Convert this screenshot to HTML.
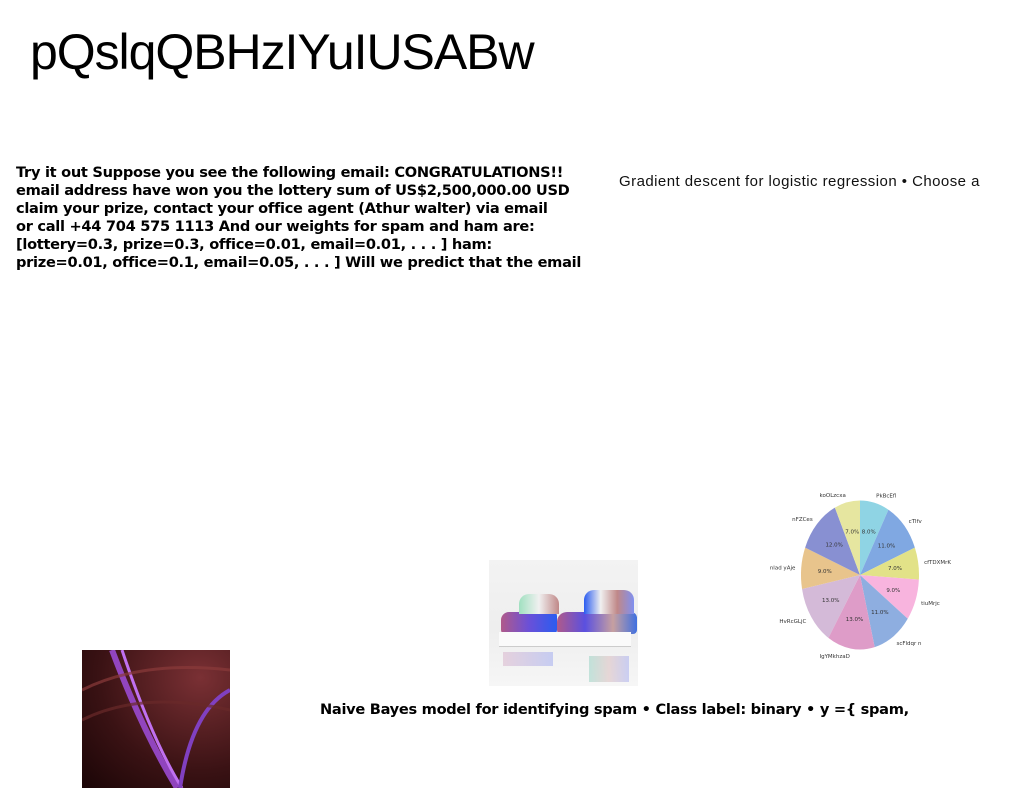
<!DOCTYPE html>
<html><head><meta charset="utf-8">
<style>
body{margin:0;width:1024px;height:788px;background:#fff;position:relative;overflow:hidden;font-family:"Liberation Sans",sans-serif}
.abs{position:absolute}
#title{left:30px;top:22px;font-size:50px;color:#000;letter-spacing:-1.05px;line-height:60px}
#para{left:16px;top:164px;font-size:14.6px;font-weight:bold;line-height:18px;color:#000;white-space:nowrap;font-family:"DejaVu Sans","Liberation Sans",sans-serif;letter-spacing:-0.3px}
#right{left:619px;top:173px;font-size:15px;color:#111;white-space:nowrap;letter-spacing:0.45px}
#bottom{left:320px;top:701px;font-size:14.6px;font-weight:bold;white-space:nowrap;font-family:"DejaVu Sans","Liberation Sans",sans-serif;letter-spacing:-0.3px}
</style></head><body>
<div id="title" class="abs">pQslqQBHzIYuIUSABw</div>
<div id="para" class="abs">Try it out Suppose you see the following email: CONGRATULATIONS!!<br>email address have won you the lottery sum of US$2,500,000.00 USD<br>claim your prize, contact your office agent (Athur walter) via email<br>or call +44 704 575 1113 And our weights for spam and ham are:<br>[lottery=0.3, prize=0.3, office=0.01, email=0.01, . . . ] ham:<br>prize=0.01, office=0.1, email=0.05, . . . ] Will we predict that the email</div>
<div id="right" class="abs">Gradient descent for logistic regression • Choose a</div>
<div id="bottom" class="abs">Naive Bayes model for identifying spam • Class label: binary • y ={ spam,</div>

<div class="abs" style="left:489px;top:560px;width:149px;height:126px;background:linear-gradient(#f3f3f3,#eee 55%,#f6f6f6);overflow:hidden">
<div class="abs" style="left:12px;top:52px;width:56px;height:22px;background:linear-gradient(90deg,#b05a8a,#6a50d8,#2a5cf0);border-radius:8px 4px 4px 4px"></div>
<div class="abs" style="left:30px;top:34px;width:40px;height:20px;background:linear-gradient(90deg,#a0e0c0,#f0f0f0,#c08888);border-radius:10px 10px 0 0"></div>
<div class="abs" style="left:68px;top:52px;width:80px;height:22px;background:linear-gradient(90deg,#b05a8a,#5a50e0,#c7a0a0 70%,#4070e0);border-radius:10px 6px 4px 4px"></div>
<div class="abs" style="left:95px;top:30px;width:50px;height:24px;background:linear-gradient(90deg,#2a5cf0,#f0f0f0,#c08888,#8090f0);border-radius:10px 10px 0 0"></div>
<div class="abs" style="left:10px;top:72px;width:132px;height:14px;background:#fafafa;border-bottom:1px solid #ccc"></div>
<div class="abs" style="left:14px;top:92px;width:50px;height:14px;background:linear-gradient(90deg,#d8b0c8,#9aa6f0);opacity:.5"></div>
<div class="abs" style="left:100px;top:96px;width:40px;height:26px;background:linear-gradient(90deg,#90d0c0,#d8b8b8,#a0a8f0);opacity:.5"></div>
</div>

<div class="abs" style="left:82px;top:650px;width:148px;height:138px;background:radial-gradient(ellipse at 80% 20%,#7a3034,#3a1214 60%,#1a0506);overflow:hidden">
<svg width="148" height="138" style="position:absolute;left:0;top:0">
<path d="M30 0 Q60 80 95 138" stroke="#9a4ad0" stroke-width="6" fill="none" opacity=".9"/>
<path d="M40 0 Q70 90 100 138" stroke="#c070f0" stroke-width="3" fill="none"/>
<path d="M148 40 Q110 60 98 138" stroke="#8040c0" stroke-width="4" fill="none"/>
<path d="M0 40 Q60 10 148 20" stroke="#8a3a3a" stroke-width="3" fill="none" opacity=".7"/>
<path d="M0 70 Q60 40 148 60" stroke="#6a2a2a" stroke-width="3" fill="none" opacity=".7"/>
</svg></div>

<svg id="pie" class="abs" style="left:760px;top:485px" width="200" height="175"></svg>
<script>
const labels=["PkBcEfl","cTlfv","cfTDXMrK","tiuMrjc","scFldqr n","IgYMkhzaD","HvRcGLjC","nlad yAje","nFZCes","koOLzcxa"];
const values=[8,11,7,9,11,13,13,9,12,7];
const colors=["#8fd4e4","#80a8e2","#e2e288","#f8b4de","#8eaee0","#de9cc8","#d4bad8","#e8c48c","#8890d2","#e6e6a0"];
const svg=document.getElementById('pie');
const NS="http://www.w3.org/2000/svg";
const cx=100,cy=90,rx=59,ry=74.5;
const total=values.reduce((a,b)=>a+b,0);
let acc=0;
function pt(a,r){return [cx+rx*r*Math.sin(a),cy-ry*r*Math.cos(a)];}
values.forEach((v,i)=>{
 const a0=acc/total*2*Math.PI;acc+=v;const a1=acc/total*2*Math.PI;
 const p0=pt(a0,1),p1=pt(a1,1);
 const path=document.createElementNS(NS,'path');
 path.setAttribute('d',`M${cx},${cy} L${p0[0]},${p0[1]} A${rx},${ry} 0 ${a1-a0>Math.PI?1:0} 1 ${p1[0]},${p1[1]} Z`);
 path.setAttribute('fill',colors[i]);
 
 
 svg.appendChild(path);
 const am=(a0+a1)/2;
 const pp=pt(am,0.6);
 const t=document.createElementNS(NS,'text');
 t.setAttribute('x',pp[0]);t.setAttribute('y',pp[1]+2);
 t.setAttribute('font-size','5.5');t.setAttribute('text-anchor','middle');
 t.setAttribute('font-family','DejaVu Sans, sans-serif');t.setAttribute('fill','#333');
 t.textContent=v.toFixed(1)+'%';
 
 
 svg.appendChild(t);
 const lp=pt(am,1.1);
 const l=document.createElementNS(NS,'text');
 l.setAttribute('x',lp[0]);l.setAttribute('y',lp[1]+2);
 l.setAttribute('font-size','5.5');
 l.setAttribute('text-anchor',Math.sin(am)>0.1?'start':(Math.sin(am)<-0.1?'end':'middle'));
 l.setAttribute('font-family','DejaVu Sans, sans-serif');l.setAttribute('fill','#333');
 l.textContent=labels[i];
 
 
 svg.appendChild(l);
});
</script>
</body></html>
